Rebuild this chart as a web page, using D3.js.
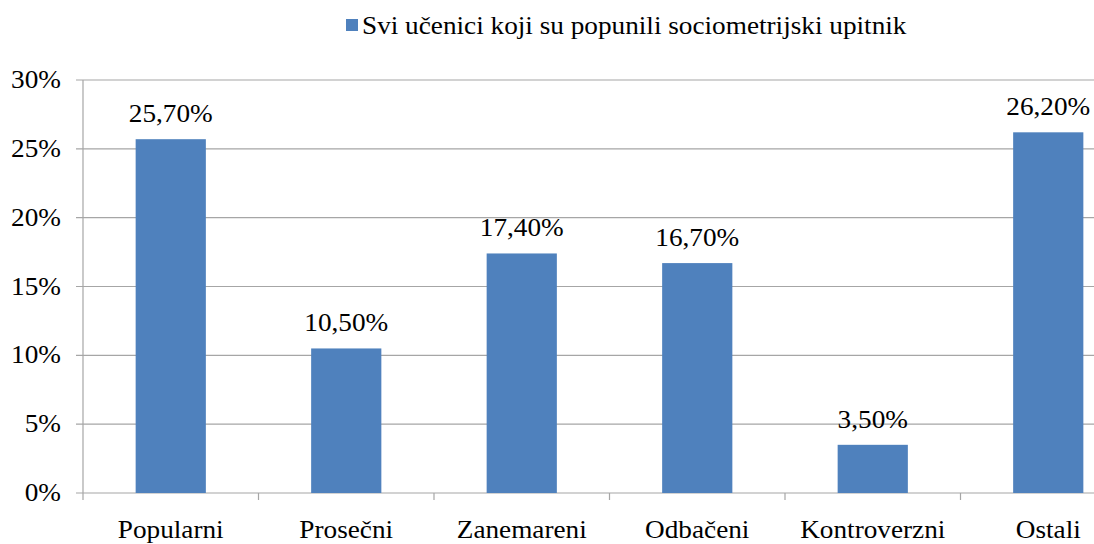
<!DOCTYPE html>
<html>
<head>
<meta charset="utf-8">
<script src="https://cdn.jsdelivr.net/npm/d3@7"></script>
<style>
  body { margin: 0; background: #fff; overflow: hidden; }
</style>
</head>
<body>
<div id="chart"></div>
<script>
// data
var categories = ["Popularni", "Prosečni", "Zanemareni", "Odbačeni", "Kontroverzni", "Ostali"]
var values = [25.7, 10.5, 17.4, 16.7, 3.5, 26.2]
var valueLabels = ["25,70%", "10,50%", "17,40%", "16,70%", "3,50%", "26,20%"]
var yTicks = [0, 5, 10, 15, 20, 25, 30]
var seriesName = "Svi učenici koji su popunili sociometrijski upitnik"

var W = 1094, H = 544
var margin = {top: 80, left: 83}
var plotW = 1053, plotH = 413
var stretch = 1.09   // text in the picture is a bit widened
var fontSize = 25
var fontFamily = "'Liberation Serif', 'Times New Roman', Times, serif"

var svg = d3.select("#chart").append("svg")
    .attr("width", W)
    .attr("height", H)
    .attr("font-family", fontFamily)

var g = svg.append("g")
    .attr("transform", "translate(" + margin.left + "," + margin.top + ")")

var x = d3.scaleBand()
    .domain(categories)
    .range([0, plotW])
    .paddingInner(0.6)
    .paddingOuter(0.3)

var y = d3.scaleLinear()
    .domain([0, 30])
    .range([plotH, 0])

function stretchedText(sel, tx, ty) {
    return sel.attr("transform", "translate(" + tx + "," + ty + ") scale(" + stretch + ",1)")
        .attr("font-family", fontFamily)
        .attr("font-size", fontSize)
        .attr("fill", "#000")
}

// gridlines
g.selectAll(".grid")
    .data(yTicks)
  .enter().append("line")
    .attr("x1", -7)
    .attr("x2", plotW)
    .attr("y1", function(d){ return y(d) })
    .attr("y2", function(d){ return y(d) })
    .attr("stroke", "#a6a6a6")
    .attr("stroke-width", 1.2)

// y axis line
g.append("line")
    .attr("x1", 0).attr("x2", 0)
    .attr("y1", 0).attr("y2", plotH)
    .attr("stroke", "#a6a6a6")
    .attr("stroke-width", 1.2)

// x ticks at band boundaries
var step = x.step()
g.selectAll(".xtick")
    .data(d3.range(categories.length + 1))
  .enter().append("line")
    .attr("x1", function(i){ return i * step })
    .attr("x2", function(i){ return i * step })
    .attr("y1", plotH)
    .attr("y2", plotH + 7)
    .attr("stroke", "#a6a6a6")
    .attr("stroke-width", 1.2)

// y tick labels
g.selectAll(".ylabel")
    .data(yTicks)
  .enter().append("text")
    .attr("text-anchor", "end")
    .each(function(d){ stretchedText(d3.select(this), -22, y(d) + 8) })
    .text(function(d){ return d + "%" })

// bars
g.selectAll(".bar")
    .data(values)
  .enter().append("rect")
    .attr("x", function(d, i){ return x(categories[i]) })
    .attr("y", function(d){ return y(d) })
    .attr("width", x.bandwidth())
    .attr("height", function(d){ return plotH - y(d) })
    .attr("fill", "#4f81bd")

// value labels
g.selectAll(".vlabel")
    .data(values)
  .enter().append("text")
    .attr("text-anchor", "middle")
    .each(function(d, i){
        stretchedText(d3.select(this), x(categories[i]) + x.bandwidth() / 2, y(d) - 17)
    })
    .text(function(d, i){ return valueLabels[i] })

// category labels
g.selectAll(".xlabel")
    .data(categories)
  .enter().append("text")
    .attr("text-anchor", "middle")
    .each(function(d){
        stretchedText(d3.select(this), x(d) + x.bandwidth() / 2, plotH + 45)
    })
    .text(function(d){ return d })

// legend
var legend = svg.append("g")
legend.append("rect")
    .attr("x", 346)
    .attr("y", 19)
    .attr("width", 12)
    .attr("height", 12)
    .attr("fill", "#4f81bd")
legend.append("text")
    .each(function(){ stretchedText(d3.select(this), 362, 34) })
    .text(seriesName)
</script>
</body>
</html>
